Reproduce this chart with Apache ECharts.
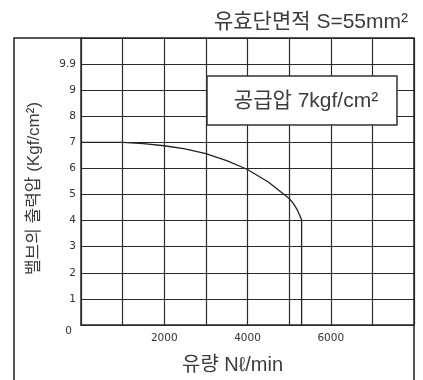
<!DOCTYPE html>
<html><head><meta charset="utf-8">
<script src="https://cdn.jsdelivr.net/npm/echarts@6/dist/echarts.min.js"></script>
<style>html,body{margin:0;padding:0;background:#fff;}#c{width:423px;height:380px;}</style>
</head><body><div id="c"></div>
<script>
var titleText = '유효단면적 S=55mm²';
var xName = '유량 Nℓ/min';
var yName = '밸브의 출력압 (Kgf/cm²)';
var boxText = '공급압 7kgf/cm²';
var flow = [0, 1000, 1500, 2000, 2500, 3000, 3500, 4000, 4500, 5000, 5100, 5200, 5300, 5300];
var pressure = [7.0, 7.0, 6.95, 6.87, 6.75, 6.57, 6.3, 5.96, 5.48, 4.85, 4.66, 4.4, 4.03, 0];
var xTickLabels = {2000: '2000', 4000: '4000', 6000: '6000'};
var yTickLabels = {0: '0', 1: '1', 2: '2', 3: '3', 4: '4', 5: '5', 6: '6', 7: '7', 8: '8', 9: '9', 10: '9.9'};

var data = flow.map(function (f, i) { return [f, pressure[i]]; });
var chart = echarts.init(document.getElementById('c'));
var lineCol = '#2a2a2a';
var txtCol = '#3c3c3c';
var txtFont = "'Liberation Sans', 'Noto Sans CJK KR', sans-serif";
var numFont = "'DejaVu Sans', sans-serif";
chart.setOption({
  animation: false,
  backgroundColor: '#fff',
  title: {
    text: titleText, right: 10, top: 7,
    textStyle: {fontFamily: txtFont, fontSize: 21, fontWeight: 'normal', color: txtCol}
  },
  grid: {left: 81, right: 9, top: 38, bottom: 53},
  xAxis: {
    type: 'value', min: 0, max: 8000, interval: 1000,
    name: xName, nameLocation: 'middle', nameGap: 30,
    nameTextStyle: {fontFamily: txtFont, fontSize: 20, color: txtCol, padding: [0, 30, 0, 0]},
    axisLine: {show: true, lineStyle: {color: lineCol, width: 1.5}},
    axisTick: {show: false},
    axisLabel: {
      margin: 8, fontFamily: numFont, fontSize: 10.5, color: '#333',
      formatter: function (v) { return xTickLabels[v] || ''; }
    },
    splitLine: {show: true, lineStyle: {color: lineCol, width: 1.2}}
  },
  yAxis: {
    type: 'value', min: 0, max: 11, interval: 1,
    name: yName, nameLocation: 'middle', nameGap: 38, nameRotate: 90,
    nameTextStyle: {fontFamily: txtFont, fontSize: 17, color: txtCol, padding: [0, 0, 0, -14]},
    axisLine: {show: true, lineStyle: {color: lineCol, width: 1.5}},
    axisTick: {show: false},
    axisLabel: {
      margin: 5, fontFamily: numFont, fontSize: 10.5, color: '#333',
      formatter: function (v) { var t = yTickLabels[v]; if (t === undefined) return ''; return v === 0 ? '{z|' + t + '}' : t; },
      rich: {z: {padding: [12, 4, 0, 0], fontFamily: numFont, fontSize: 10.5, color: '#333'}}
    },
    splitLine: {show: true, lineStyle: {color: lineCol, width: 1.2}}
  },
  series: [{
    type: 'line', data: data, symbol: 'none', smooth: false,
    lineStyle: {color: '#222', width: 1.3}, z: 3
  }],
  graphic: [
    {type: 'rect', shape: {x: 14, y: 38, width: 400, height: 360}, style: {fill: 'none', stroke: '#222', lineWidth: 1.5}, z: 10},
    {type: 'rect', shape: {x: 207, y: 76, width: 190, height: 49}, style: {fill: '#fff', stroke: '#333', lineWidth: 1.5}, z: 20},
    {type: 'text', x: 306, y: 101, style: {text: boxText, fontFamily: txtFont, fontSize: 21, fill: txtCol, align: 'center', verticalAlign: 'middle'}, z: 21}
  ]
});
</script></body></html>
